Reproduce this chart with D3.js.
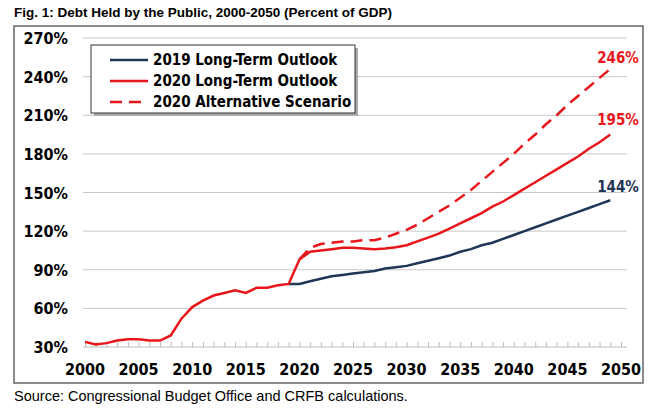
<!DOCTYPE html>
<html><head><meta charset="utf-8">
<script src="https://cdn.jsdelivr.net/npm/d3@7"></script>
<style>body{margin:0;background:#fff}</style>
</head><body><div id="chart"></div>
<script>
// data
const histYears = d3.range(2000, 2020);
const hist = [34,32,33,35,36,36,35,35,39,52,61,66,70,72,74,72,76,76,78,79];
const projYears = d3.range(2019, 2050);
const outlook2019 = [79,79,81,83,85,86,87,88,89,91,92,93,95,97,99,101,104,106,109,111,114,117,120,123,126,129,132,135,138,141,144];
const outlook2020 = [79,98,104,105,106,107,107,106.5,106,106.5,107.5,109,112,115,118,122,126,130,134,139,143,148,153,158,163,168,173,178,184,189,195];
const altYears = d3.range(2020, 2050);
const alt2020 = [98,107,110,111,112,112,113,113,115,118,121,125,130,135,140,146,152,159,166,173,180,188,195,203,210,218,225,232,239,246];
const yTicks = [30,60,90,120,150,180,210,240,270];
const xTicks = [2000,2005,2010,2015,2020,2025,2030,2035,2040,2045,2050];

const W = 661, H = 410;
const BLUE = '#1f3656', RED = '#e8161b';
const narrow = '"DejaVu Sans Condensed", "Liberation Sans Narrow", sans-serif';
const svg = d3.select('#chart').append('svg').attr('width', W).attr('height', H);

const x = d3.scaleLinear().domain([2000, 2050]).range([85, 621]);
const y = d3.scaleLinear().domain([30, 270]).range([347, 38]);

svg.append('text').attr('x', 14).attr('y', 17)
  .style('font-family', 'Liberation Sans, Arial, sans-serif').style('font-weight', 'bold')
  .style('font-size', '13.5px').text('Fig. 1: Debt Held by the Public, 2000-2050 (Percent of GDP)');

svg.append('rect').attr('x', 14).attr('y', 26).attr('width', 629).attr('height', 357)
  .attr('fill', 'none').attr('stroke', '#666').attr('stroke-width', 1.5);

// gridlines
svg.append('g').selectAll('line').data(yTicks.slice(1)).join('line')
  .attr('x1', 83).attr('x2', 627).attr('y1', d => y(d)).attr('y2', d => y(d))
  .attr('stroke', '#c8c8c8').attr('stroke-width', 1);

// y labels
svg.append('g').selectAll('text').data(yTicks).join('text')
  .attr('x', 68).attr('y', d => y(d) + 6).attr('text-anchor', 'end')
  .style('font-family', narrow).style('font-weight', 'bold').style('font-size', '16px')
  .text(d => d + '%');

// x axis
const xAxis = d3.axisBottom(x).tickValues(d3.range(2000, 2051)).tickSize(5).tickFormat('');
const ax = svg.append('g').attr('transform', `translate(0,${y(30) - 5})`).call(xAxis);
ax.select('.domain').remove();
ax.selectAll('line').attr('stroke', '#bbb');
svg.append('line').attr('x1', 83).attr('x2', 627).attr('y1', y(30)).attr('y2', y(30)).attr('stroke', '#bbb');
svg.append('g').selectAll('text').data(xTicks).join('text')
  .attr('x', d => x(d)).attr('y', 375).attr('text-anchor', 'middle')
  .style('font-family', narrow).style('font-weight', 'bold').style('font-size', '16px')
  .text(d => d);

const line = d3.line().x(d => x(d[0])).y(d => y(d[1]));
const zip = (a, b) => a.map((v, i) => [v, b[i]]);
svg.append('path').datum(zip(projYears, outlook2019)).attr('d', line)
  .attr('fill', 'none').attr('stroke', BLUE).attr('stroke-width', 2.5);
svg.append('path').datum(zip(altYears, alt2020)).attr('d', line)
  .attr('fill', 'none').attr('stroke', RED).attr('stroke-width', 2.5).attr('stroke-dasharray', '12,7');
svg.append('path').datum(zip(histYears, hist).concat(zip(projYears, outlook2020).slice(1))).attr('d', line)
  .attr('fill', 'none').attr('stroke', RED).attr('stroke-width', 2.5);

// end labels
const endLab = [[alt2020[alt2020.length - 1], RED, -6], [outlook2020[outlook2020.length - 1], RED, -10], [outlook2019[outlook2019.length - 1], BLUE, -8]];
svg.append('g').selectAll('text').data(endLab).join('text')
  .attr('x', 618).attr('y', d => y(d[0]) + d[2]).attr('text-anchor', 'middle')
  .attr('fill', d => d[1])
  .style('font-family', narrow).style('font-weight', 'bold').style('font-size', '15px')
  .text(d => d[0] + '%');

// legend
const lg = svg.append('g').attr('transform', 'translate(91,45)');
lg.append('rect').attr('x', 3).attr('y', 3).attr('width', 264).attr('height', 68).attr('fill', '#aaa');
lg.append('rect').attr('width', 264).attr('height', 68).attr('fill', '#fff').attr('stroke', '#333').attr('stroke-width', 1);
const legendItems = [['2019 Long-Term Outlook', BLUE, null], ['2020 Long-Term Outlook', RED, null], ['2020 Alternative Scenario', RED, '12,7']];
legendItems.forEach((d, i) => {
  const yy = 15 + i * 21;
  lg.append('line').attr('x1', 19).attr('x2', 57).attr('y1', yy).attr('y2', yy)
    .attr('stroke', d[1]).attr('stroke-width', 2.5).attr('stroke-dasharray', d[2]);
  lg.append('text').attr('x', 62).attr('y', yy + 5)
    .style('font-family', narrow).style('font-weight', 'bold').style('font-size', '15px').text(d[0]);
});

svg.append('text').attr('x', 14).attr('y', 401)
  .style('font-family', 'Liberation Sans, Arial, sans-serif').style('font-size', '14.5px')
  .text('Source: Congressional Budget Office and CRFB calculations.');
</script></body></html>
